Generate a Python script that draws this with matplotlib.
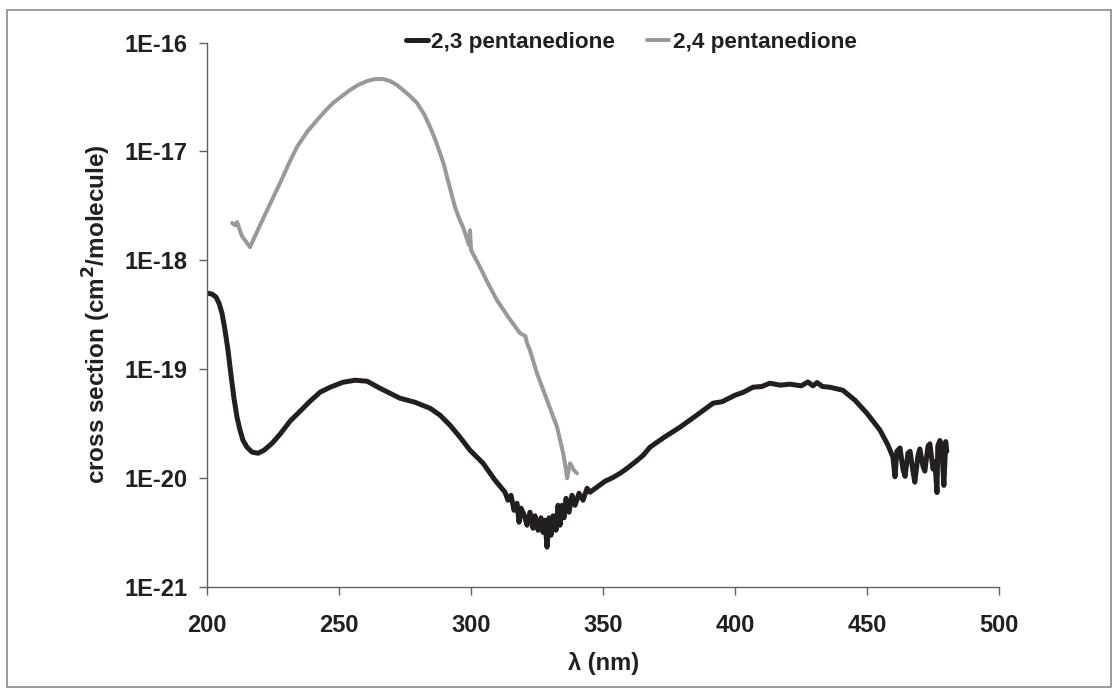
import matplotlib
matplotlib.use("Agg")
import matplotlib.pyplot as plt
from matplotlib.ticker import FixedLocator, FixedFormatter, NullLocator
from matplotlib.patches import Rectangle

# ---------------- data ----------------
series_names = ["2,3 pentanedione", "2,4 pentanedione"]

wl_23 = [200.0, 201.78, 203.3, 204.43, 205.57, 206.71, 207.84, 208.98, 210.11, 211.25,
         212.39, 213.52, 215.04, 216.93, 219.21, 221.48, 224.51, 227.54, 231.33, 235.12,
         238.91, 242.7, 246.49, 251.4, 255.95, 260.5, 265.4, 273.0, 278.7, 284.4,
         288.15, 291.93, 295.72, 299.51, 304.44, 308.98,
         312.77, 313.9, 315.04, 316.18, 317.32, 318.07, 318.83, 319.97, 321.1, 322.24,
         323.38, 324.13, 325.27, 326.41, 327.16, 327.92, 328.68, 329.44, 330.19, 330.95,
         332.09, 332.85, 333.6, 334.36, 335.12, 335.88, 337.01, 338.15, 339.29, 340.8,
         342.32, 343.84, 344.97,
         350.7, 353.5, 356.4, 359.0, 362.0, 365.0, 367.7, 373.0, 379.1, 385.0,
         391.6, 395.0, 399.9, 403.0, 406.7, 410.0, 413.1, 417.0, 420.7, 425.0,
         427.5, 429.4, 431.0, 433.0, 435.8, 440.7, 445.3, 449.8, 454.8, 457.8,
         459.7, 460.5, 461.2, 462.4, 463.5, 464.3, 465.4, 466.2, 467.3, 468.0,
         469.2, 469.9, 471.1, 471.8, 473.0, 473.7, 474.9, 475.6, 476.4, 476.7,
         477.5, 478.2, 479.0, 479.7, 480.1]
cs_23 = [4.98e-19, 4.88e-19, 4.58e-19, 4.03e-19, 3.26e-19, 2.28e-19, 1.49e-19, 8.77e-20, 5.39e-20, 3.6e-20,
         2.74e-20, 2.21e-20, 1.91e-20, 1.72e-20, 1.68e-20, 1.79e-20, 2.07e-20, 2.51e-20, 3.31e-20, 4.08e-20,
         5.05e-20, 6.11e-20, 6.79e-20, 7.55e-20, 7.88e-20, 7.72e-20, 6.65e-20, 5.38e-20, 4.94e-20, 4.35e-20,
         3.76e-20, 3.04e-20, 2.36e-20, 1.79e-20, 1.36e-20, 9.5e-21,
         7.36e-21, 6.21e-21, 6.9e-21, 5.02e-21, 5.82e-21, 3.9e-21, 5.25e-21, 4.56e-21, 3.66e-21, 4.82e-21,
         3.43e-21, 4.47e-21, 3.29e-21, 4.28e-21, 3.15e-21, 4.07e-21, 2.3e-21, 4.28e-21, 2.96e-21, 4.47e-21,
         3.29e-21, 5.58e-21, 3.66e-21, 5.58e-21, 4.28e-21, 6.47e-21, 4.82e-21, 6.9e-21, 5.58e-21, 7.2e-21,
         6.21e-21, 8.0e-21, 7.36e-21,
         9.3e-21, 1.0e-20, 1.1e-20, 1.22e-20, 1.39e-20, 1.6e-20, 1.91e-20, 2.35e-20, 2.92e-20, 3.7e-20,
         4.85e-20, 5.0e-20, 5.74e-20, 6.1e-20, 6.8e-20, 6.9e-20, 7.4e-20, 7.1e-20, 7.25e-20, 7.0e-20,
         7.6e-20, 7.0e-20, 7.5e-20, 6.9e-20, 6.8e-20, 6.38e-20, 5.17e-20, 3.93e-20, 2.74e-20, 2.0e-20,
         1.55e-20, 1.02e-20, 1.75e-20, 1.88e-20, 1.2e-20, 1.03e-20, 1.68e-20, 1.75e-20, 1.15e-20, 9.1e-21,
         1.6e-20, 1.84e-20, 1.27e-20, 1.15e-20, 1.96e-20, 2.05e-20, 1.2e-20, 1.4e-20, 7.3e-21, 1.96e-20,
         2.2e-20, 1.96e-20, 8.5e-21, 2.15e-20, 1.75e-20]

wl_24 = [209.4, 210.5, 211.3, 213.1, 216.2, 218.07, 220.72, 223.75, 227.54, 231.33,
         233.98, 237.77, 241.56, 244.59, 247.62, 251.03, 254.06, 257.09, 260.5, 263.53,
         266.56, 269.21, 271.86, 274.13, 276.79, 279.44, 282.09, 284.36, 286.26, 288.15,
         289.67, 290.8, 292.32, 293.83, 295.35, 296.86, 298.0, 299.13, 299.5, 299.9,
         303.3, 306.5, 309.7, 314.0, 318.4, 320.5, 321.1, 322.2, 324.9, 328.7,
         332.5, 334.8, 335.9, 336.3, 337.4, 338.9, 340.0]
cs_24 = [2.2e-18, 2.1e-18, 2.24e-18, 1.67e-18, 1.32e-18, 1.667e-18, 2.29e-18, 3.28e-18, 5.12e-18, 8.16e-18,
         1.1e-17, 1.51e-17, 1.94e-17, 2.35e-17, 2.79e-17, 3.23e-17, 3.67e-17, 4.08e-17, 4.44e-17, 4.63e-17,
         4.63e-17, 4.44e-17, 4.08e-17, 3.67e-17, 3.23e-17, 2.79e-17, 2.21e-17, 1.68e-17, 1.3e-17, 9.66e-18,
         7.5e-18, 5.81e-18, 4.23e-18, 3.08e-18, 2.44e-18, 2.02e-18, 1.67e-18, 1.38e-18, 1.89e-18, 1.24e-18,
         8.65e-19, 6.0e-19, 4.3e-19, 3.0e-19, 2.14e-19, 2.0e-19, 1.73e-19, 1.49e-19, 9.1e-20, 5.15e-20,
         2.91e-20, 1.68e-20, 1.17e-20, 9.9e-21, 1.36e-20, 1.17e-20, 1.1e-20]

x_ticks = [200, 250, 300, 350, 400, 450, 500]
y_ticks = [1e-21, 1e-20, 1e-19, 1e-18, 1e-17, 1e-16]
y_tick_labels = ["1E-21", "1E-20", "1E-19", "1E-18", "1E-17", "1E-16"]

# ---------------- figure ----------------
plt.rcParams['font.family'] = ['Liberation Sans', 'DejaVu Sans']
plt.rcParams['font.weight'] = 'bold'

fig = plt.figure(figsize=(11.18, 6.97), dpi=100)
fig.patches.append(Rectangle((7 / 1118, 10 / 697), 1104 / 1118, 677 / 697,
                             transform=fig.transFigure, fill=False,
                             edgecolor='#8a8a8a', linewidth=1.2))

ax = fig.add_axes([207.3 / 1118, (697 - 586.5) / 697, 792 / 1118, 543.8 / 697])

ax.plot(wl_23, cs_23, color='#231f20', lw=3.6, solid_joinstyle='round',
        solid_capstyle='round', label=series_names[0])
ax.plot(wl_24, cs_24, color='#99999b', lw=2.9, solid_joinstyle='round',
        solid_capstyle='round', label=series_names[1])

ax.set_yscale('log')
ax.set_xlim(200, 500)
ax.set_ylim(1e-21, 1e-16)

ax.xaxis.set_major_locator(FixedLocator(x_ticks))
ax.yaxis.set_major_locator(FixedLocator(y_ticks))
ax.yaxis.set_major_formatter(FixedFormatter(y_tick_labels))
ax.yaxis.set_minor_locator(NullLocator())

for s in ['top', 'right']:
    ax.spines[s].set_visible(False)
for s in ['left', 'bottom']:
    ax.spines[s].set_color('#606060')
    ax.spines[s].set_linewidth(1.0)

ax.tick_params(axis='both', which='major', direction='out', length=5.5,
               width=1.0, color='#606060', labelsize=17, labelcolor='#231f20')
ax.tick_params(axis='y', pad=9)
ax.tick_params(axis='x', pad=14)
for lab in ax.get_xticklabels() + ax.get_yticklabels():
    lab.set_fontweight('bold')

ax.set_xlabel('λ (nm)', fontsize=17, fontweight='bold', color='#231f20', labelpad=11)
ax.set_ylabel('cross section (cm$^\\mathbf{2}$/molecule)', fontsize=17.5,
              fontweight='bold', color='#231f20', labelpad=8)

leg = ax.legend(loc='center', bbox_to_anchor=(0.535, 1.0), ncol=2, frameon=False,
                handlelength=1.0, handletextpad=0.15, columnspacing=1.4,
                prop={'family': ['Liberation Sans', 'DejaVu Sans'],
                      'weight': 'bold', 'size': 16.2})
for t in leg.get_texts():
    t.set_color('#231f20')

fig.savefig('out.png', dpi=100)
